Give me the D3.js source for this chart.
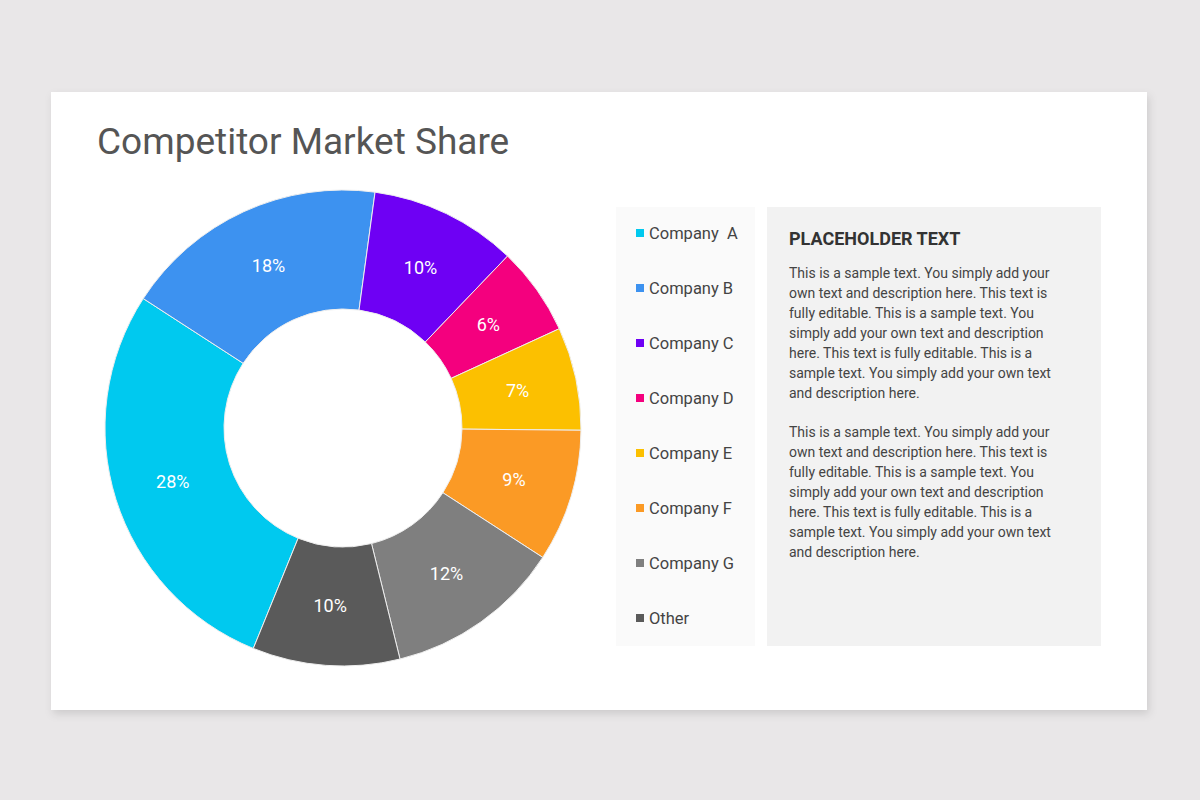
<!DOCTYPE html>
<html>
<head>
<meta charset="utf-8">
<script src="https://cdn.jsdelivr.net/npm/d3@7"></script>
<style>
    body { margin: 0; background: #e9e7e8; font-family: Roboto, "Noto Sans", sans-serif; }
    svg { display: block; }
</style>
</head>
<body>
<svg id="chart" width="1200" height="800"></svg>
<script>
//----------------------------//
//            DATA            //
//----------------------------//
const companies = ["Company  A", "Company B", "Company C", "Company D", "Company E", "Company F", "Company G", "Other"];
const shares = [28, 18, 10, 6, 7, 9, 12, 10];
const colors = ["#00c9ef", "#3d92f0", "#6e00f4", "#f4007e", "#fcc000", "#fb9a25", "#7f7f7f", "#5a5a5a"];

const titleText = "Competitor Market Share";
const headingText = "PLACEHOLDER TEXT";
const paragraph1 = [
    "This is a sample text. You simply add your",
    "own text and description here. This text is",
    "fully editable. This is a sample text. You",
    "simply add your own text and description",
    "here. This text is fully editable. This is a",
    "sample text. You simply add your own text",
    "and description here."
];
const paragraph2 = paragraph1.slice();

// --- Card ---
const svg = d3.select('#chart');

const defs = svg.append('defs');
const shadow = defs.append('filter')
    .attr('id', 'shadow')
    .attr('x', '-5%').attr('y', '-5%')
    .attr('width', '110%').attr('height', '115%');
shadow.append('feDropShadow')
    .attr('dx', 2).attr('dy', 4)
    .attr('stdDeviation', 4)
    .attr('flood-color', '#000')
    .attr('flood-opacity', 0.12);

svg.append('rect')
    .attr('x', 51).attr('y', 92)
    .attr('width', 1096).attr('height', 618)
    .attr('fill', '#fff')
    .attr('filter', 'url(#shadow)');

svg.append('text')
    .attr('x', 97).attr('y', 154)
    .attr('font-size', 37)
    .attr('fill', '#555')
    .text(titleText);

// --- Donut ---
const cx = 343, cy = 428;
const outerR = 238, innerR = 119;

// rotate so that Company C begins just right of 12 o'clock
const startAngle = 2 * Math.PI * 0.5615;
const pie = d3.pie()
    .sort(null)
    .startAngle(startAngle)
    .endAngle(startAngle + 2 * Math.PI);

const arc = d3.arc().innerRadius(innerR).outerRadius(outerR);
const labelArc = d3.arc().innerRadius((innerR + outerR) / 2).outerRadius((innerR + outerR) / 2);

const donut = svg.append('g').attr('transform', `translate(${cx},${cy})`);
const arcs = pie(shares);

donut.selectAll('.slice')
    .data(arcs)
    .enter()
    .append('path')
    .attr('class', 'slice')
    .attr('d', arc)
    .attr('fill', (d, i) => colors[i])
    .attr('stroke', '#eeeeee')
    .attr('stroke-width', 1);

donut.selectAll('.label')
    .data(arcs)
    .enter()
    .append('text')
    .attr('class', 'label')
    .attr('transform', d => `translate(${labelArc.centroid(d)})`)
    .attr('text-anchor', 'middle')
    .attr('dy', '0.35em')
    .attr('font-size', 18)
    .attr('fill', '#fff')
    .text(d => `${d.data}%`);

// --- Legend ---
svg.append('rect')
    .attr('x', 616).attr('y', 207)
    .attr('width', 139).attr('height', 439)
    .attr('fill', '#fafafa');

const legendY = d3.scalePoint()
    .domain(companies)
    .range([233, 618]);

const legend = svg.selectAll('.legend')
    .data(companies)
    .enter()
    .append('g')
    .attr('class', 'legend')
    .attr('transform', d => `translate(636,${legendY(d)})`);

legend.append('rect')
    .attr('x', 0).attr('y', -4)
    .attr('width', 8).attr('height', 8)
    .attr('fill', (d, i) => colors[i]);

legend.append('text')
    .attr('x', 13)
    .attr('dy', '0.35em')
    .attr('font-size', 16.5)
    .attr('fill', '#444')
    .style('white-space', 'pre')
    .text(d => d);

// --- Text panel ---
svg.append('rect')
    .attr('x', 767).attr('y', 207)
    .attr('width', 334).attr('height', 439)
    .attr('fill', '#f2f2f2');

svg.append('text')
    .attr('x', 789).attr('y', 245)
    .attr('font-size', 18)
    .attr('font-weight', 'bold')
    .attr('fill', '#333')
    .text(headingText);

const addParagraph = (lines, top) => {
    svg.append('text')
        .attr('font-size', 14)
        .attr('fill', '#444')
        .selectAll('tspan')
        .data(lines)
        .enter()
        .append('tspan')
        .attr('x', 789)
        .attr('y', (d, i) => top + i * 20)
        .text(d => d);
};

addParagraph(paragraph1, 278);
addParagraph(paragraph2, 437);
</script>
</body>
</html>
